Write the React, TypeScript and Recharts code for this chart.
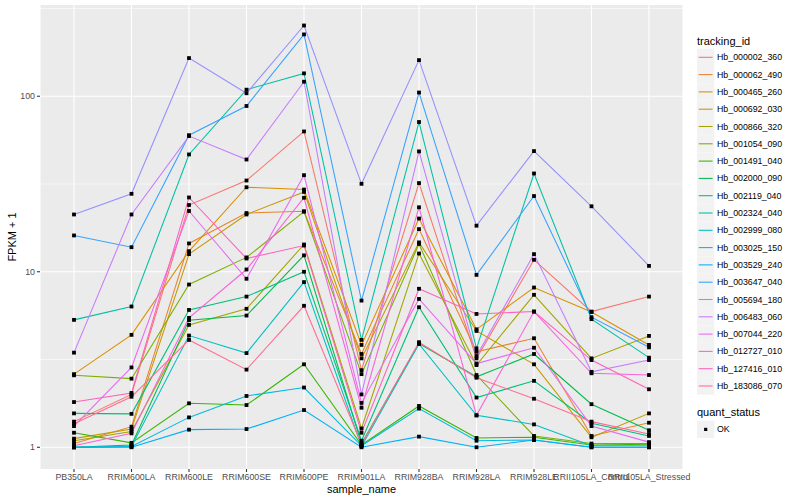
import React from "react";
import { LineChart, Line, XAxis, YAxis, CartesianGrid } from "recharts";

const categories = [
  "PB350LA",
  "RRIM600LA",
  "RRIM600LE",
  "RRIM600SE",
  "RRIM600PE",
  "RRIM901LA",
  "RRIM928BA",
  "RRIM928LA",
  "RRIM928LE",
  "RRII105LA_Control",
  "RRII105LA_Stressed",
];

const trackingIds = [
  "Hb_000002_360",
  "Hb_000062_490",
  "Hb_000465_260",
  "Hb_000692_030",
  "Hb_000866_320",
  "Hb_001054_090",
  "Hb_001491_040",
  "Hb_002000_090",
  "Hb_002119_040",
  "Hb_002324_040",
  "Hb_002999_080",
  "Hb_003025_150",
  "Hb_003529_240",
  "Hb_003647_040",
  "Hb_005694_180",
  "Hb_006483_060",
  "Hb_007044_220",
  "Hb_012727_010",
  "Hb_127416_010",
  "Hb_183086_070",
];

// ggplot default hue palette, 20 levels
const hueColours = [
  "#F8766D", "#EA8331", "#D89000", "#C09B00", "#A3A500",
  "#7CAE00", "#39B600", "#00BB4E", "#00BF7D", "#00C1A3",
  "#00BFC4", "#00BAE0", "#00B0F6", "#35A2FF", "#9590FF",
  "#C77CFF", "#E76BF3", "#FA62DB", "#FF62BC", "#FF6C91",
];

// FPKM + 1, one value per sample
const hb000002_360 = [1.4, 2.0, 24.0, 33.1, 63, 2.75, 32, 3.21, 11.7, 5.93, 7.22];
const hb000062_490 = [1.05, 1.31, 14.5, 21.6, 22.1, 3.4, 17.5, 3.5, 4.18, 1.16, 1.38];
const hb000465_260 = [2.61, 4.37, 13.1, 30.3, 29.4, 3.83, 20.1, 4.7, 8.13, 5.9, 3.83];
const hb000692_030 = [1.12, 1.27, 12.6, 21.2, 28.5, 3.21, 14.7, 4.6, 2.97, 1.14, 1.56];
const hb000866_320 = [1.09, 1.23, 4.98, 6.15, 14.3, 1.28, 12.7, 2.94, 7.39, 3.21, 4.31];
const hb001054_090 = [2.57, 2.46, 8.46, 12.07, 22, 2.61, 14.4, 2.58, 1.16, 1.05, 1.05];
const hb001491_040 = [1.21, 1.06, 1.78, 1.74, 2.97, 1.03, 1.72, 1.13, 1.14, 1.03, 1.04];
const hb002000_090 = [1.0, 1.03, 5.3, 5.63, 12.4, 1.05, 3.9, 2.52, 3.4, 1.76, 1.25];
const hb002119_040 = [1.56, 1.55, 6.06, 7.22, 10.0, 1.09, 6.28, 1.92, 2.39, 1.37, 1.16];
const hb002324_040 = [5.32, 6.34, 46.6, 109, 135, 4.09, 71.3, 3.66, 36.3, 5.37, 3.24];
const hb002999_080 = [1.0, 1.01, 4.33, 3.44, 8.73, 1.01, 3.88, 1.52, 1.35, 1.02, 1.02];
const hb003025_150 = [1.0, 1.01, 1.48, 1.96, 2.19, 1.02, 1.66, 1.09, 1.1, 1.0, 1.0];
const hb003529_240 = [1.0, 1.0, 1.26, 1.27, 1.63, 1.0, 1.15, 1.0, 1.1, 1.0, 1.0];
const hb003647_040 = [16.1, 13.8, 60, 88, 225, 6.85, 105, 9.6, 27, 5.51, 3.71];
const hb005694_180 = [21.2, 27.8, 165, 104, 253, 31.7, 160.6, 18.3, 48.7, 23.6, 10.8];
const hb006483_060 = [3.46, 21.2, 59.3, 43.6, 121, 2.0, 48.5, 3.31, 12.6, 2.69, 3.14];
const hb007044_220 = [1.32, 2.85, 22.2, 9.12, 35.5, 1.79, 7.0, 3.0, 3.69, 1.32, 1.07];
const hb012727_010 = [1.02, 1.2, 5.46, 10.3, 26.4, 1.68, 23.3, 1.52, 5.93, 2.64, 2.58];
const hb127416_010 = [1.81, 2.04, 26.5, 11.9, 14.1, 1.21, 8.0, 5.75, 5.93, 3.14, 2.14];
const hb183086_070 = [1.36, 1.94, 4.09, 2.77, 6.4, 1.04, 3.97, 2.49, 1.89, 1.4, 1.19];

const seriesValues = [
  hb000002_360, hb000062_490, hb000465_260, hb000692_030, hb000866_320,
  hb001054_090, hb001491_040, hb002000_090, hb002119_040, hb002324_040,
  hb002999_080, hb003025_150, hb003529_240, hb003647_040, hb005694_180,
  hb006483_060, hb007044_220, hb012727_010, hb127416_010, hb183086_070,
];

const yTicks = [1, 10, 100];
const yMinor = [Math.sqrt(10), Math.sqrt(1000), Math.sqrt(100000)];

const rows = categories.map((sample, i) => {
  const row: Record<string, number | string> = { sample };
  trackingIds.forEach((id, s) => {
    row[id] = seriesValues[s][i];
  });
  return row;
});

const FONT = '"Liberation Sans", Arial, Helvetica, sans-serif';

const XTick = (props: any) => {
  const { x, y, payload } = props;
  return (
    <text x={x} y={y} dy="0.71em" textAnchor="middle" fontSize={8.8} fill="#4D4D4D" fontFamily={FONT}>
      {payload.value}
    </text>
  );
};

const YTick = (props: any) => {
  const { x, y, payload } = props;
  return (
    <text x={x} y={y} dy="0.355em" textAnchor="end" fontSize={8.8} fill="#4D4D4D" fontFamily={FONT}>
      {payload.value}
    </text>
  );
};

const squareDot = (props: any) => {
  const { cx, cy, index, dataKey } = props;
  if (cx == null || cy == null) return <g key={`${dataKey}-${index}`} />;
  return (
    <rect key={`${dataKey}-${index}`} x={cx - 1.9} y={cy - 1.9} width={3.8} height={3.8} fill="#000" />
  );
};

function LegendOverlay() {
  const keyH = 17.3;
  const firstY = 57.3;
  return (
    <svg width={800} height={500} style={{ position: "absolute", left: 0, top: 0, pointerEvents: "none" }}>
      <text x={697} y={40.7} dy="0.35em" fontSize={11} fontFamily={FONT} fill="#000">
        tracking_id
      </text>
      {trackingIds.map((id, i) => {
        const cy = firstY + i * keyH;
        return (
          <g key={id}>
            <rect x={697} y={cy - keyH / 2} width={17.3} height={keyH} fill="#F2F2F2" />
            <line x1={698.7} x2={712.6} y1={cy} y2={cy} stroke={hueColours[i]} strokeWidth={1.07} />
            <text x={717} y={cy} dy="0.35em" fontSize={8.8} fontFamily={FONT} fill="#000">
              {id}
            </text>
          </g>
        );
      })}
      <text x={697} y={412.3} dy="0.35em" fontSize={11} fontFamily={FONT} fill="#000">
        quant_status
      </text>
      <rect x={697} y={429.3 - keyH / 2} width={17.3} height={keyH} fill="#F2F2F2" />
      <rect x={704.1} y={427.8} width={3.2} height={3.2} fill="#000" />
      <text x={717} y={429.3} dy="0.35em" fontSize={8.8} fontFamily={FONT} fill="#000">
        OK
      </text>
      <text x={361.5} y={489} dy="0.35em" textAnchor="middle" fontSize={11} fontFamily={FONT} fill="#000">
        sample_name
      </text>
      <text
        x={12}
        y={237}
        dy="0.35em"
        textAnchor="middle"
        fontSize={11}
        fontFamily={FONT}
        fill="#000"
        transform="rotate(-90 12 237)"
      >
        FPKM + 1
      </text>
    </svg>
  );
}

export default function App() {
  return (
    <div style={{ position: "absolute", left: 0, top: 0, width: 800, height: 500, background: "#fff" }}>
      <LineChart width={800} height={500} data={rows} margin={{ top: 5, right: 117, bottom: 0, left: 0 }}>
        <CartesianGrid
          fill="#EBEBEB"
          stroke="#FFFFFF"
          strokeWidth={0.55}
          vertical={false}
          horizontalValues={yMinor}
        />
        <CartesianGrid stroke="#FFFFFF" strokeWidth={1.1} horizontalValues={yTicks} />
        <XAxis
          dataKey="sample"
          type="category"
          interval={0}
          padding={{ left: 34, right: 34 }}
          height={31}
          axisLine={false}
          tickSize={3}
          tickMargin={2}
          tickLine={{ stroke: "#333333", strokeWidth: 1.07 }}
          tick={<XTick />}
        />
        <YAxis
          type="number"
          scale="log"
          domain={[0.752, 331]}
          allowDataOverflow
          ticks={yTicks}
          width={40}
          axisLine={false}
          tickSize={3}
          tickMargin={2}
          tickLine={{ stroke: "#333333", strokeWidth: 1.07 }}
          tick={<YTick />}
        />
        {trackingIds.map((id, i) => (
          <Line
            key={`line-${id}`}
            dataKey={id}
            type="linear"
            stroke={hueColours[i]}
            strokeWidth={1.07}
            dot={false}
            activeDot={false}
            isAnimationActive={false}
          />
        ))}
        {trackingIds.map((id) => (
          <Line
            key={`pts-${id}`}
            dataKey={id}
            type="linear"
            stroke="none"
            dot={squareDot}
            activeDot={false}
            isAnimationActive={false}
          />
        ))}
      </LineChart>
      <LegendOverlay />
    </div>
  );
}
